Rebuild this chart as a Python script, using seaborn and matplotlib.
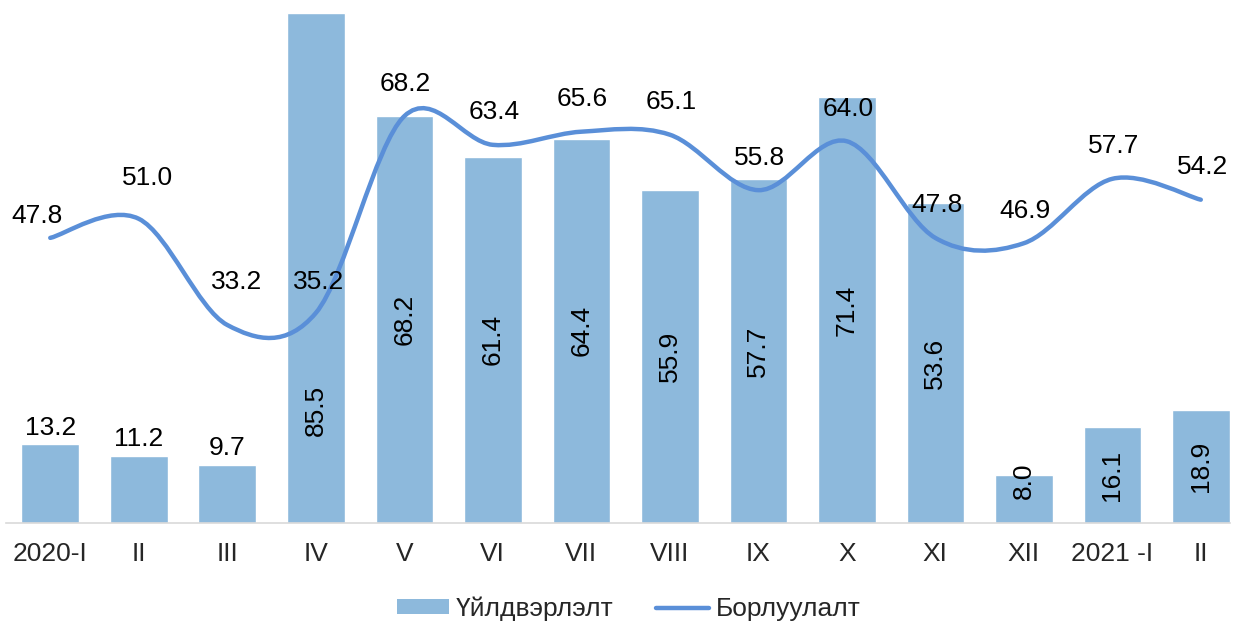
import matplotlib
matplotlib.use("Agg")
import matplotlib.pyplot as plt
import seaborn as sns
import numpy as np
from matplotlib.path import Path
from matplotlib.patches import PathPatch, Patch
from matplotlib.lines import Line2D

# Datos del grafico
categorias = ["2020-I", "II", "III", "IV", "V", "VI", "VII", "VIII", "IX", "X", "XI", "XII", "2021 -I", "II"]
produccion = [13.2, 11.2, 9.7, 85.5, 68.2, 61.4, 64.4, 55.9, 57.7, 71.4, 53.6, 8.0, 16.1, 18.9]
ventas = [47.8, 51.0, 33.2, 35.2, 68.2, 63.4, 65.6, 65.1, 55.8, 64.0, 47.8, 46.9, 57.7, 54.2]

nombre_barras = "Үйлдвэрлэлт"
nombre_linea = "Борлуулалт"

color_barras = "#8DB9DC"
color_linea = "#5A8FD8"

sns.set_theme(style="white")
plt.rcParams['font.family'] = ['Liberation Sans', 'DejaVu Sans']
fs = 19

fig = plt.figure(figsize=(12.41, 6.24), dpi=100)
ax = fig.add_axes([6 / 1241, 101 / 624, 1224 / 1241, 510 / 624])

x = list(range(len(categorias)))
sns.barplot(x=x, y=produccion, color=color_barras, saturation=1, width=0.65, ax=ax)

# Linea suavizada (estilo Excel) con curvas Bezier
n = len(ventas)
pts = [(i, v) for i, v in zip(x, ventas)]
verts = [pts[0]]
codes = [Path.MOVETO]
for i in range(n - 1):
    p0 = pts[max(i - 1, 0)]
    p1 = pts[i]
    p2 = pts[i + 1]
    p3 = pts[min(i + 2, n - 1)]
    c1 = (p1[0] + (p2[0] - p0[0]) / 6, p1[1] + (p2[1] - p0[1]) / 6)
    c2 = (p2[0] - (p3[0] - p1[0]) / 6, p2[1] - (p3[1] - p1[1]) / 6)
    verts += [c1, c2, p2]
    codes += [Path.CURVE4] * 3
ax.add_patch(PathPatch(Path(verts, codes), facecolor="none", edgecolor=color_linea,
                       lw=3.2, capstyle="round", joinstyle="round", zorder=3))

ax.set_xlim(-0.5, 13.33)
ax.set_ylim(0, 85.5)

# Etiquetas de las barras
pos_manual = {3: 18.9, 11: 7.0}
for i, v in enumerate(produccion):
    if i < 3:
        ax.annotate(f"{v:.1f}", (i, v), xytext=(0, 7), textcoords="offset points",
                    ha="center", va="baseline", fontsize=fs, color="black")
    else:
        ax.text(i, pos_manual.get(i, v / 2), f"{v:.1f}", rotation=90, ha="center",
                va="center", fontsize=fs, color="black", zorder=4)

# Etiquetas de la linea
desp_manual = {0: (-9.5, 16), 1: (6.5, 29.5), 2: (7, 31), 3: (2, 22)}
for i, v in enumerate(ventas):
    dx, dy = desp_manual.get(i, (1, 23.5))
    ax.annotate(f"{v:.1f}", (i, v), xytext=(dx, dy), textcoords="offset points",
                ha="center", va="center", fontsize=fs, color="black", zorder=5,
                annotation_clip=False)

ax.set_xticks(x)
ax.set_xticklabels(categorias, fontsize=fs)
ax.tick_params(axis="x", length=0, pad=14)
ax.set_yticks([])
for s in ["top", "left", "right"]:
    ax.spines[s].set_visible(False)
ax.spines["bottom"].set_color("#D9D9D9")
ax.spines["bottom"].set_linewidth(1.2)

handles = [Patch(facecolor=color_barras, edgecolor="none"),
           Line2D([0], [0], color=color_linea, lw=3.2, solid_capstyle="round")]
fig.legend(handles, [nombre_barras, nombre_linea], loc="center", bbox_to_anchor=(0.5 + 8 / 1241, 15 / 624),
           ncol=2, frameon=False, fontsize=fs, handlelength=2.0, handleheight=0.5,
           handletextpad=0.25, columnspacing=1.6)

fig.savefig("out.png", dpi=100)
